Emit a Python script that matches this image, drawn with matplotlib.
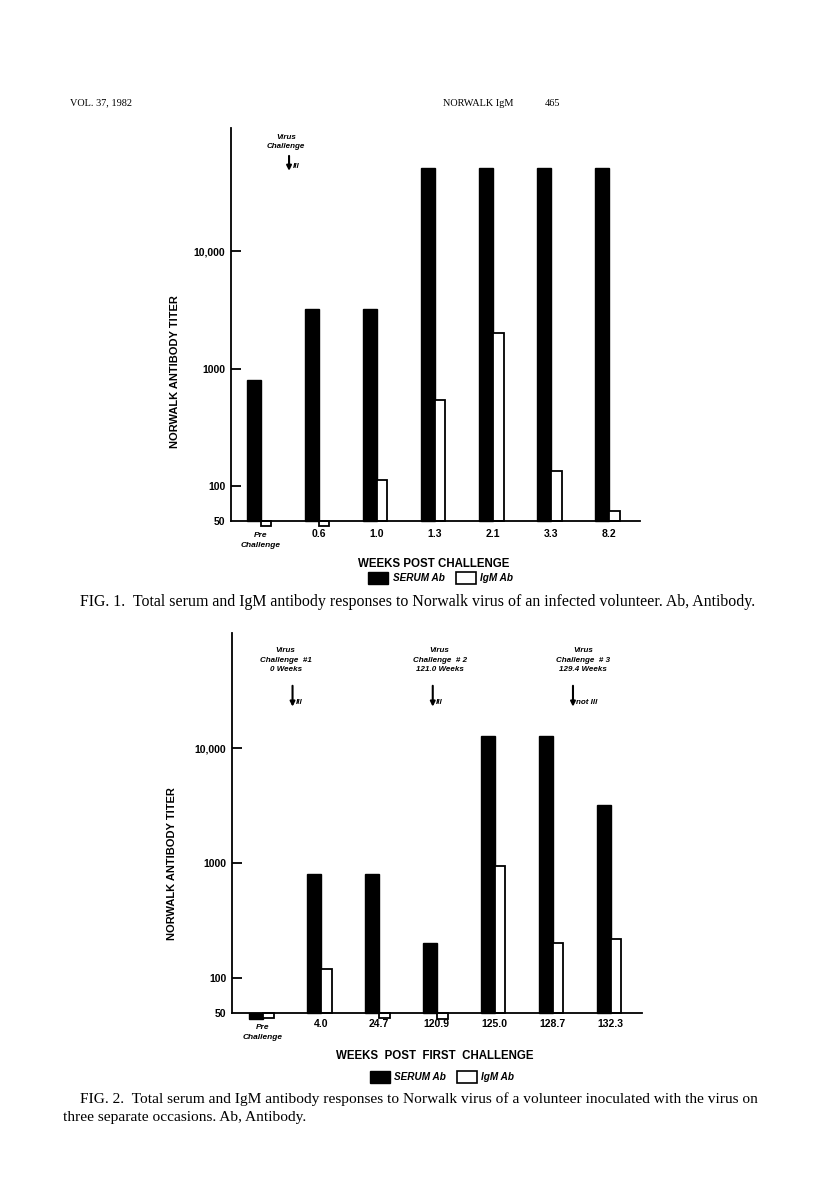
import matplotlib
matplotlib.use("Agg")
import matplotlib.pyplot as plt
import numpy as np

# Fig. 1 data
weeks1 = ["Pre\nChallenge", "0.6", "1.0", "1.3", "2.1", "3.3", "8.2"]
serum1 = [800, 3200, 3200, 51200, 51200, 51200, 51200]
igm1 = [45, 45, 112, 540, 2000, 134, 61]

# Fig. 2 data
weeks2 = ["Pre\nChallenge", "4.0", "24.7", "120.9", "125.0", "128.7", "132.3"]
serum2 = [44, 800, 800, 200, 12800, 12800, 3200]
igm2 = [45, 120, 45, 44, 950, 200, 220]

# challenge notes: text, illness, position on the week axis
challenges1 = [("Virus\nChallenge", "Ill", 0.49)]
challenges2 = [("Virus\nChallenge  #1\n0 Weeks", "Ill", 0.51),
               ("Virus\nChallenge  # 2\n121.0 Weeks", "Ill", 2.93),
               ("Virus\nChallenge  # 3\n129.4 Weeks", "not Ill", 5.35)]
text_shift1 = [-0.05]
text_shift2 = [-0.12, 0.12, 0.17]

SANS = "Liberation Sans"
SERIF = "Liberation Serif"
W, H = 816, 1194
BASE = 50


def frac(x0, y0, x1, y1):
    return [x0 / W, 1 - y1 / H, (x1 - x0) / W, (y1 - y0) / H]


def draw(ax, labels, serum, igm, top, xlim, challenges, shifts, ch_y, xlabel, xl_y,
         yl_x, yl_y, leg_y, tick_pad, pre_y):
    x = np.arange(len(labels))
    ax.bar(x - 0.24, np.array(serum) - BASE, bottom=BASE, width=0.24, align="edge",
           color="black", edgecolor="black", linewidth=1.0, clip_on=False)
    ax.bar(x, np.array(igm) - BASE, bottom=BASE, width=0.185, align="edge",
           color="white", edgecolor="black", linewidth=1.3, clip_on=False)
    ax.set_yscale("log")
    ax.set_ylim(BASE, top)
    ax.set_xlim(*xlim)
    for s in ["top", "right"]:
        ax.spines[s].set_visible(False)
    for s in ["left", "bottom"]:
        ax.spines[s].set_linewidth(1.3)
    ax.set_yticks([50, 100, 1000, 10000])
    ax.set_yticklabels(["50", "100", "1000", "10,000"], fontsize=7.5,
                       fontweight="bold", family=SANS)
    ax.yaxis.set_minor_locator(matplotlib.ticker.NullLocator())
    ax.tick_params(axis="y", direction="in", length=7.5, width=1.3, pad=4)
    ax.yaxis.get_major_ticks()[0].tick1line.set_visible(False)
    ax.set_xticks(x)
    ax.set_xticklabels([""] + labels[1:], fontsize=7.5, fontweight="bold", family=SANS)
    ax.tick_params(axis="x", length=0, pad=tick_pad)
    ax.text(x[0], pre_y, labels[0], transform=ax.get_xaxis_transform(), ha="center",
            va="center", fontsize=6, fontweight="bold", fontstyle="italic", family=SANS,
            linespacing=1.55)

    ax.set_ylabel("NORWALK ANTIBODY TITER", fontsize=8, fontweight="bold", family=SANS)
    ax.yaxis.set_label_coords(yl_x, yl_y)
    ax.set_xlabel(xlabel, fontsize=8.3, fontweight="bold", family=SANS)
    ax.xaxis.set_label_coords(0.496, xl_y)

    y_txt, y_a0, y_a1 = ch_y
    tr = ax.get_xaxis_transform()
    for (txt, ill, cx), dx in zip(challenges, shifts):
        ax.text(cx + dx, y_txt, txt, transform=tr, ha="center", va="top", fontsize=5.8,
                fontweight="bold", fontstyle="italic", family=SANS, linespacing=1.5)
        ax.annotate("", xy=(cx, y_a1), xytext=(cx, y_a0), xycoords=tr,
                    arrowprops=dict(arrowstyle="-|>", color="black", lw=1.5,
                                    mutation_scale=7, shrinkA=0, shrinkB=0))
        ax.text(cx + 0.06, y_a1 + 0.012, ill, transform=tr, ha="left", va="center",
                fontsize=5.8, fontweight="bold", fontstyle="italic", family=SANS)

    h1 = matplotlib.patches.Patch(facecolor="black", edgecolor="black")
    h2 = matplotlib.patches.Patch(facecolor="white", edgecolor="black", linewidth=1.2)
    ax.legend([h1, h2], ["SERUM Ab", "IgM Ab"], ncol=2, frameon=False,
              loc="center", bbox_to_anchor=(0.513, leg_y), handlelength=2.0,
              handleheight=1.4, handletextpad=0.45, columnspacing=1.1,
              prop=dict(family=SANS, size=7.2, weight="bold", style="italic"))


fig = plt.figure(figsize=(W / 100, H / 100), dpi=100)

ax1 = fig.add_axes(frac(231, 128, 640, 521))
draw(ax1, weeks1, serum1, igm1, 113000, (-0.51, 6.536), challenges1, text_shift1,
     (0.985, 0.929, 0.891), "WEEKS POST CHALLENGE", -0.095, -0.125, 0.38, -0.145, 6, -0.05)

ax2 = fig.add_axes(frac(231.7, 633, 641.7, 1012.7))
draw(ax2, weeks2, serum2, igm2, 100000, (-0.54, 6.536), challenges2, text_shift2,
     (0.963, 0.861, 0.806), "WEEKS  POST  FIRST  CHALLENGE", -0.098, -0.133, 0.394, -0.169,
     4.5, -0.052)

# page header and captions
fig.text(70 / W, 1 - 103 / H, "VOL. 37, 1982", family=SERIF, fontsize=7.4, va="center")
fig.text(443 / W, 1 - 103 / H, "NORWALK IgM", family=SERIF, fontsize=7.4, va="center")
fig.text(545 / W, 1 - 103 / H, "465", family=SERIF, fontsize=7.4, va="center")
fig.text(80 / W, 1 - 602 / H,
         "FIG. 1.  Total serum and IgM antibody responses to Norwalk virus of an infected volunteer. Ab, Antibody.",
         family=SERIF, fontsize=11.4, va="center")
fig.text(80 / W, 1 - 1099 / H,
         "FIG. 2.  Total serum and IgM antibody responses to Norwalk virus of a volunteer inoculated with the virus on",
         family=SERIF, fontsize=11.1, va="center")
fig.text(63 / W, 1 - 1118 / H, "three separate occasions. Ab, Antibody.",
         family=SERIF, fontsize=11.1, va="center")

fig.savefig("out.png", dpi=100)
